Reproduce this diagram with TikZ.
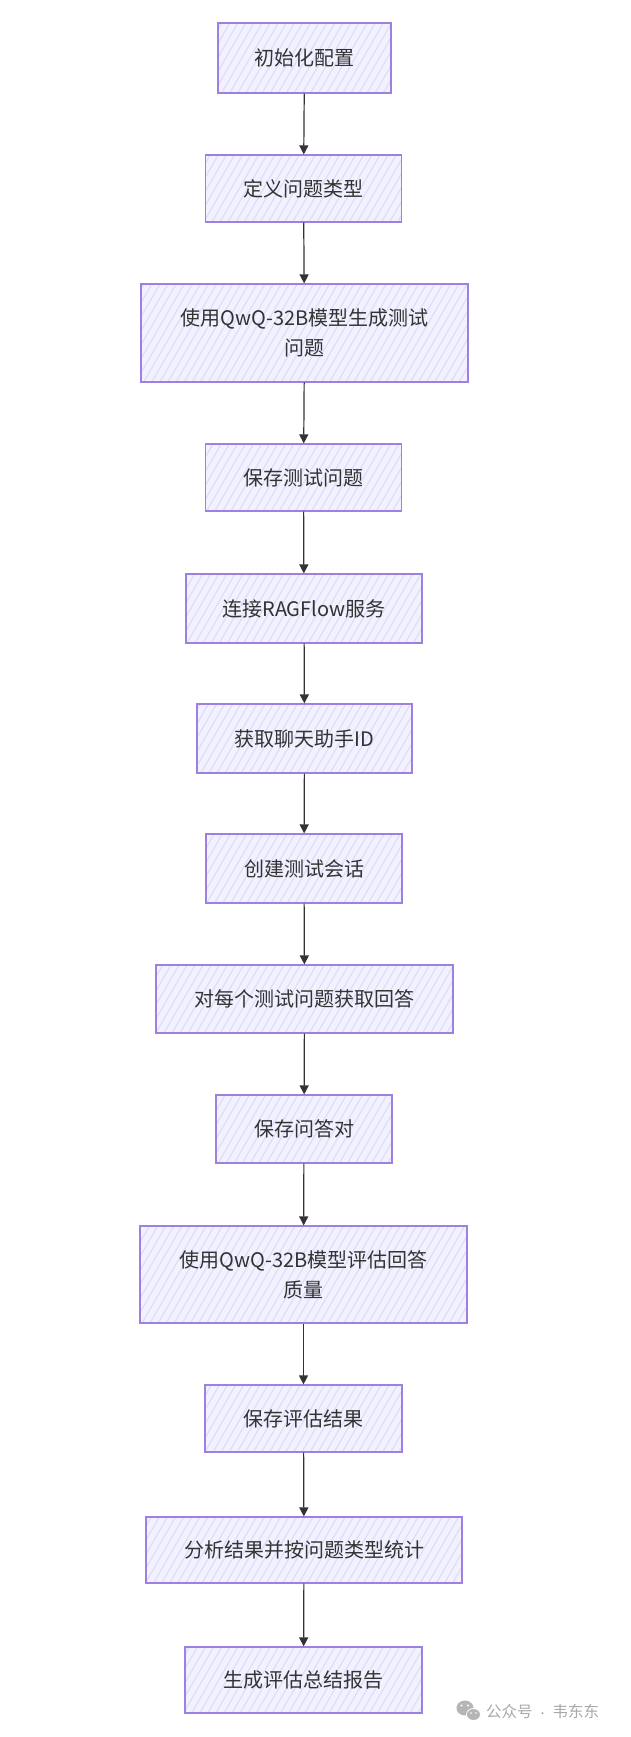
\documentclass[tikz,border=0pt]{standalone}
\usepackage{fontspec}
\setmainfont{Noto Sans CJK SC}
\usetikzlibrary{arrows.meta,patterns.meta}
\definecolor{boxline}{HTML}{9D80E2}
\definecolor{boxfill}{HTML}{F2F2FF}
\definecolor{hatch}{HTML}{E0DDFB}
\definecolor{txt}{HTML}{333333}
\definecolor{arrowc}{HTML}{333333}
\definecolor{wm}{HTML}{A8A8A8}
\tikzset{
  stepbox/.style={
    preaction={fill=boxfill},
    preaction={pattern={Lines[angle=60,distance=7pt,line width=1.3pt]},pattern color=hatch},
    draw=boxline, line width=1.2pt, text=txt,
    font=\fontsize{20}{30}\selectfont, inner sep=0pt, align=center,
    minimum height=68pt},
  flow/.style={draw=arrowc, line width=1.2pt, -{Triangle[length=9pt,width=9pt]}},
}
\begin{document}
\begin{tikzpicture}[x=1pt,y=-1pt]
\useasboundingbox[fill=white] (0,0) rectangle (631,1737);
\node[stepbox, minimum width=173pt, minimum height=70pt] (b1) at (304.5,58) {初始化配置};
\node[stepbox, minimum width=196pt, minimum height=67pt] (b2) at (303.5,188.5) {定义问题类型};
\node[stepbox, minimum width=327pt, minimum height=98pt] (b3) at (304.5,333) {使用QwQ-32B模型生成测试\\问题};
\node[stepbox, minimum width=196pt, minimum height=67pt] (b4) at (303.5,477.5) {保存测试问题};
\node[stepbox, minimum width=236pt, minimum height=69pt] (b5) at (304,608.5) {连接RAGFlow服务};
\node[stepbox, minimum width=215pt, minimum height=69pt] (b6) at (304.5,738.5) {获取聊天助手ID};
\node[stepbox, minimum width=196pt, minimum height=69pt] (b7) at (304,868.5) {创建测试会话};
\node[stepbox, minimum width=297pt, minimum height=68pt] (b8) at (304.5,999) {对每个测试问题获取回答};
\node[stepbox, minimum width=176pt, minimum height=68pt] (b9) at (304,1129) {保存问答对};
\node[stepbox, minimum width=327pt, minimum height=97pt] (b10) at (303.5,1274.5) {使用QwQ-32B模型评估回答\\质量};
\node[stepbox, minimum width=197pt, minimum height=67pt] (b11) at (303.5,1418.5) {保存评估结果};
\node[stepbox, minimum width=316pt, minimum height=66pt] (b12) at (304,1550) {分析结果并按问题类型统计};
\node[stepbox, minimum width=237pt, minimum height=66pt] (b13) at (303.5,1680) {生成评估总结报告};
\foreach \a/\b in {b1/b2,b2/b3,b3/b4,b4/b5,b5/b6,b6/b7,b7/b8,b8/b9,b9/b10,b10/b11,b11/b12,b12/b13}
  \draw[flow] (\a) -- (\b);
% watermark
\fill[wm!85] (465,1708) ellipse [x radius=8.5pt, y radius=7.5pt];
\fill[white] (461.5,1705.5) circle (1.1pt) (468,1705.5) circle (1.1pt);
\filldraw[fill=wm!85, draw=white, line width=0.8pt] (473.5,1714.5) ellipse [x radius=7pt, y radius=6pt];
\fill[white] (471,1713) circle (0.9pt) (476,1713) circle (0.9pt);
\node[text=wm, font=\fontsize{15.5}{18}\selectfont, anchor=west, inner sep=0pt] (wmtext) at (486,1711.5) {公众号\hspace{5pt}{\fontsize{10}{12}\selectfont·}\hspace{5pt}韦东东};
\end{tikzpicture}
\end{document}
